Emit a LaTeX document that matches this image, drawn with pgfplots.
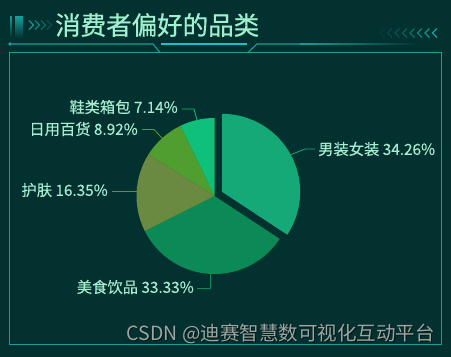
\documentclass[border=0pt]{standalone}
\usepackage{pgfplots}
\pgfplotsset{compat=1.18}
\usepackage{fontspec}
\setmainfont{Noto Sans CJK SC}
\newfontfamily\titlefont[FakeBold=0.7]{Noto Sans CJK SC}
\newfontfamily\labfont[FakeBold=0.25]{Noto Sans CJK SC}
\definecolor{bg}{HTML}{03312F}
\definecolor{frame}{HTML}{17A09C}
\definecolor{cyanl}{HTML}{16C4CC}
\definecolor{titlec}{HTML}{9FF0CF}
\definecolor{labc}{HTML}{A6EDD0}
\definecolor{cA}{HTML}{16A978}
\definecolor{cB}{HTML}{0C8A55}
\definecolor{cC}{HTML}{6A8941}
\definecolor{cD}{HTML}{519E30}
\definecolor{cE}{HTML}{0EC07A}
\definecolor{wm}{HTML}{A0A4A3}
% data (percent)
\def\pA{34.26}\def\pB{33.33}\def\pC{16.35}\def\pD{8.92}\def\pE{7.14}
\begin{document}
\begin{tikzpicture}
\pgfmathsetmacro\aA{90-3.6*\pA}
\pgfmathsetmacro\aB{\aA-3.6*\pB}
\pgfmathsetmacro\aC{\aB-3.6*\pC}
\pgfmathsetmacro\aD{\aC-3.6*\pD}
\pgfmathsetmacro\aE{\aD-3.6*\pE}
\pgfmathsetmacro\mA{(90+\aA)/2}
\begin{axis}[width=451pt,height=357pt,scale only axis,
  xmin=0,xmax=451,ymin=0,ymax=357,y dir=reverse,hide axis,clip=false]
\fill[bg] (axis cs:0,0) rectangle (axis cs:451,357);
% frame
\draw[frame,line width=1pt] (axis cs:9.5,52.5) rectangle (axis cs:441.5,344);
% title decorations
\shade[top color=frame,bottom color=bg] (axis cs:15,16) rectangle (axis cs:23,38);
\shade[top color=frame,bottom color=bg] (axis cs:10,16) rectangle (axis cs:11.5,38);
\draw[frame,line width=1.3pt,opacity=0.9] (axis cs:29,20.5) -- (axis cs:33.5,25) -- (axis cs:29,29.5);
\draw[frame,line width=1.3pt,opacity=0.7] (axis cs:35,20.5) -- (axis cs:39.5,25) -- (axis cs:35,29.5);
\draw[frame,line width=1.3pt,opacity=0.5] (axis cs:41,20.5) -- (axis cs:45.5,25) -- (axis cs:41,29.5);
\draw[frame,line width=1.3pt,opacity=0.3] (axis cs:47,20.5) -- (axis cs:51.5,25) -- (axis cs:47,29.5);
\draw[frame,line width=1.3pt,opacity=1] (axis cs:437,28.5) -- (axis cs:432.5,33) -- (axis cs:437,37.5);
\draw[frame,line width=1.3pt,opacity=0.85] (axis cs:429.5,28.5) -- (axis cs:425,33) -- (axis cs:429.5,37.5);
\draw[frame,line width=1.3pt,opacity=0.7] (axis cs:422,28.5) -- (axis cs:417.5,33) -- (axis cs:422,37.5);
\draw[frame,line width=1.3pt,opacity=0.55] (axis cs:414.5,28.5) -- (axis cs:410,33) -- (axis cs:414.5,37.5);
\draw[frame,line width=1.3pt,opacity=0.42] (axis cs:407,28.5) -- (axis cs:402.5,33) -- (axis cs:407,37.5);
\draw[frame,line width=1.3pt,opacity=0.3] (axis cs:399.5,28.5) -- (axis cs:395,33) -- (axis cs:399.5,37.5);
\draw[frame,line width=1.3pt,opacity=0.2] (axis cs:392,28.5) -- (axis cs:387.5,33) -- (axis cs:392,37.5);
\draw[frame,line width=1.3pt,opacity=0.1] (axis cs:384.5,28.5) -- (axis cs:380,33) -- (axis cs:384.5,37.5);
\draw[frame,line width=1.1pt] (axis cs:10,44) -- (axis cs:153,44) -- (axis cs:160,52.5);
\fill[frame] (axis cs:10,44) circle[radius=1.8pt];
\draw[frame,line width=1.1pt] (axis cs:248,52.5) -- (axis cs:257,44) -- (axis cs:300,44);
\shade[left color=frame,right color=bg] (axis cs:300,43.5) rectangle (axis cs:420,44.5);
\draw[cyanl,line width=2pt] (axis cs:161,44) -- (axis cs:247,44);
\node[anchor=west,text=titlec,font=\titlefont\fontsize{25.5}{25.5}\selectfont,inner sep=0pt] at (axis cs:55,25) {消费者偏好的品类};
% pie slices
\fill[cA] ([shift={(\mA:8.7pt)}]axis cs:214.5,196) -- ++(90:78pt) arc[start angle=90,end angle=\aA,radius=78pt] -- cycle;
\fill[cB] (axis cs:214.5,196) -- ++(\aA:78pt) arc[start angle=\aA,end angle=\aB,radius=78pt] -- cycle;
\fill[cC] (axis cs:214.5,196) -- ++(\aB:78pt) arc[start angle=\aB,end angle=\aC,radius=78pt] -- cycle;
\fill[cD] (axis cs:214.5,196) -- ++(\aC:78pt) arc[start angle=\aC,end angle=\aD,radius=78pt] -- cycle;
\fill[cE] (axis cs:214.5,196) -- ++(\aD:78pt) arc[start angle=\aD,end angle=\aE,radius=78pt] -- cycle;
% leader lines
\draw[cA,line width=0.8pt] (axis cs:290,155) -- (axis cs:305,149) -- (axis cs:315,149);
\draw[cB,line width=0.8pt] (axis cs:210,274) -- (axis cs:210,288) -- (axis cs:197,288);
\draw[cC,line width=0.8pt] (axis cs:137,191.5) -- (axis cs:112,191.5);
\draw[cD,line width=0.8pt] (axis cs:162,138) -- (axis cs:154,129.5) -- (axis cs:142,129.5);
\draw[cE,line width=0.8pt] (axis cs:197,120) -- (axis cs:194,109) -- (axis cs:182,109);
% labels
\tikzset{lab/.style={text=labc,font=\labfont\fontsize{15.3}{15.3}\selectfont,inner sep=0pt}}
\node[lab,anchor=west] at (axis cs:318,149) {男装女装 \pA\%};
\node[lab,anchor=east] at (axis cs:194,287) {美食饮品 \pB\%};
\node[lab,anchor=east] at (axis cs:108,190) {护肤 \pC\%};
\node[lab,anchor=east] at (axis cs:138,129) {日用百货 \pD\%};
\node[lab,anchor=east] at (axis cs:178,107) {鞋类箱包 \pE\%};
% watermark
\node[anchor=east,text=black,opacity=0.5,font=\fontsize{19.5}{19.5}\selectfont,inner sep=0pt] at (axis cs:436,335) {CSDN @迪赛智慧数可视化互动平台};
\node[anchor=east,text=wm,font=\fontsize{19.5}{19.5}\selectfont,inner sep=0pt] at (axis cs:435,334) {CSDN @迪赛智慧数可视化互动平台};
\end{axis}
\end{tikzpicture}
\end{document}
